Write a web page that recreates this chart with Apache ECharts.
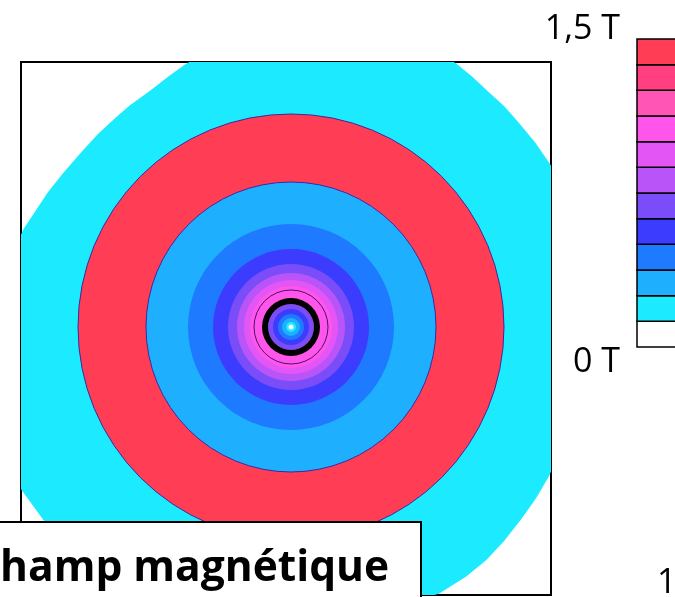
<!DOCTYPE html>
<html><head><meta charset="utf-8">
<script src="https://cdn.jsdelivr.net/npm/echarts@6/dist/echarts.min.js"></script>
<style>html,body{margin:0;padding:0;background:#fff}#c{width:675px;height:597px}</style>
</head><body><div id="c"></div>
<script>
// Colour scale bins (bottom -> top), in tesla
const levels = [0, 0.125, 0.25, 0.375, 0.5, 0.625, 0.75, 0.875, 1.0, 1.125, 1.25, 1.375, 1.5];
const binColors = ['#FFFFFF','#1CEBFF','#1EAFFF','#1E7AFF','#3C3CFF','#7A4DF8','#B955F8','#E355F5','#FF55EA','#FF55B5','#FF3F7F','#FF3D55'];
const cbTickValues = [0, 1.5];
const cbTickLabels = ['0 T', '1,5 T'];

// Outer (cyan) iso-field contour, polar around coil centre: angle (deg), radius
const outerAngles = [0, 15, 32, 37, 42, 46, 50, 54, 58, 65, 75, 90, 100, 106, 112, 116, 121, 126, 130, 135, 140, 146, 151, 156, 160, 170, 185, 200, 211, 218, 240, 270, 299, 305, 310, 315, 320, 325, 330, 345];
const outerRadii  = [300, 303, 306, 306, 306, 307, 307, 309, 311, 313, 312, 306, 297, 289, 283, 279, 275, 274, 273, 273, 273, 275, 278, 281, 285, 292, 302, 310, 315, 314, 312, 308, 305, 305, 304, 302, 300, 299, 298, 299];
const outerBin = 1;

// Concentric iso-field bands: outer radius and colour bin
const bandRadii = [213, 145, 103, 78, 63, 54, 47, 41, 23, 18, 13, 9, 5, 2.5];
const bandBins  = [11, 2, 3, 4, 5, 6, 7, 8, 5, 4, 3, 2, 1, 0];
// Thin contour lines
const contourRadii  = [213, 145, 37];
const contourColors = ['#3A2A9E', '#3A2A9E', '#4A1070'];
// Coil cross-section (inner, outer radius)
const coilRadii = [23, 29];

const titleText = 'Champ magnétique';
const cornerText = '1';

const FONT = '"Open Sans", "Liberation Sans", sans-serif';
const chart = echarts.init(document.getElementById('c'), null, {renderer: 'canvas'});

chart.setOption({
  animation: false,
  backgroundColor: '#fff',
  grid: [
    {left: 21, top: 62, width: 530, height: 533, show: true, backgroundColor: '#fff', borderColor: '#000', borderWidth: 2, z: 0, outerBoundsMode: 'none', containLabel: false},
    {left: 637, top: 39, width: 80, height: 308, show: false, outerBoundsMode: 'none', containLabel: false}
  ],
  xAxis: [
    {gridIndex: 0, type: 'value', min: -270, max: 260, show: false},
    {gridIndex: 1, type: 'value', min: 0, max: 1, show: false}
  ],
  yAxis: [
    {gridIndex: 0, type: 'value', min: -268, max: 265, show: false},
    {gridIndex: 1, type: 'value', min: 0, max: 1.5, interval: 1.5, position: 'left',
     axisLine: {show: false}, axisTick: {show: false}, splitLine: {show: false},
     axisLabel: {
       show: true, margin: 17, color: '#000',
       formatter: function (v) {
         const i = cbTickValues.indexOf(v);
         if (i < 0) return '';
         return (v === cbTickValues[cbTickValues.length - 1] ? '{hi|' : '{lo|') + cbTickLabels[i] + '}';
       },
       rich: {
         hi: {fontSize: 34, fontFamily: FONT, color: '#000', padding: [0, 0, 20, 0]},
         lo: {fontSize: 34, fontFamily: FONT, color: '#000', padding: [30, 0, 0, 0]}
       }
     }}
  ],
  series: [
    {
      type: 'custom', xAxisIndex: 0, yAxisIndex: 0, clip: true, silent: true, z: 1,
      data: [[0, 0]],
      renderItem: function (params, api) {
        const pts = outerAngles.map(function (a, i) {
          const t = a * Math.PI / 180;
          return api.coord([outerRadii[i] * Math.cos(t), outerRadii[i] * Math.sin(t)]);
        });
        return {type: 'polygon', shape: {points: pts}, style: {fill: binColors[outerBin]}};
      }
    },
    {
      type: 'custom', xAxisIndex: 0, yAxisIndex: 0, silent: true, z: 2,
      data: bandRadii.map(function (r, i) { return [r, bandBins[i]]; }),
      renderItem: function (params, api) {
        const c = api.coord([0, 0]);
        const r = api.size([api.value(0), 0])[0];
        return {type: 'circle', shape: {cx: c[0], cy: c[1], r: r}, style: {fill: binColors[api.value(1)]}};
      }
    },
    {
      type: 'custom', xAxisIndex: 0, yAxisIndex: 0, silent: true, z: 3,
      data: contourRadii.map(function (r, i) { return [r, i]; }),
      renderItem: function (params, api) {
        const c = api.coord([0, 0]);
        const r = api.size([api.value(0), 0])[0];
        return {type: 'circle', shape: {cx: c[0], cy: c[1], r: r}, style: {fill: 'none', stroke: contourColors[api.value(1)], lineWidth: 1}};
      }
    },
    {
      type: 'custom', xAxisIndex: 0, yAxisIndex: 0, silent: true, z: 4,
      data: [coilRadii],
      renderItem: function (params, api) {
        const c = api.coord([0, 0]);
        return {type: 'ring', shape: {cx: c[0], cy: c[1], r0: api.size([api.value(0), 0])[0], r: api.size([api.value(1), 0])[0]}, style: {fill: '#000'}};
      }
    },
    {
      type: 'custom', xAxisIndex: 1, yAxisIndex: 1, silent: true, z: 5,
      data: binColors.map(function (col, i) { return [levels[i], levels[i + 1], i]; }),
      renderItem: function (params, api) {
        const p0 = api.coord([0, api.value(1)]);
        const p1 = api.coord([1, api.value(0)]);
        return {type: 'rect', shape: {x: p0[0], y: p0[1], width: p1[0] - p0[0], height: p1[1] - p0[1]},
                style: {fill: binColors[api.value(2)], stroke: '#000', lineWidth: 1.5}};
      }
    }
  ],
  graphic: [
    {type: 'rect', z: 100, shape: {x: -60, y: 522, width: 481, height: 120}, style: {fill: '#fff', stroke: '#000', lineWidth: 2}},
    {type: 'text', z: 101, x: -27, y: 569, style: {text: titleText, font: 'bold 42.5px ' + FONT, fill: '#000', align: 'left', verticalAlign: 'middle'}},
    {type: 'text', z: 101, x: 657, y: 566, style: {text: cornerText, font: '34px ' + FONT, fill: '#000', align: 'left', verticalAlign: 'top'}}
  ]
});
</script>
</body></html>
